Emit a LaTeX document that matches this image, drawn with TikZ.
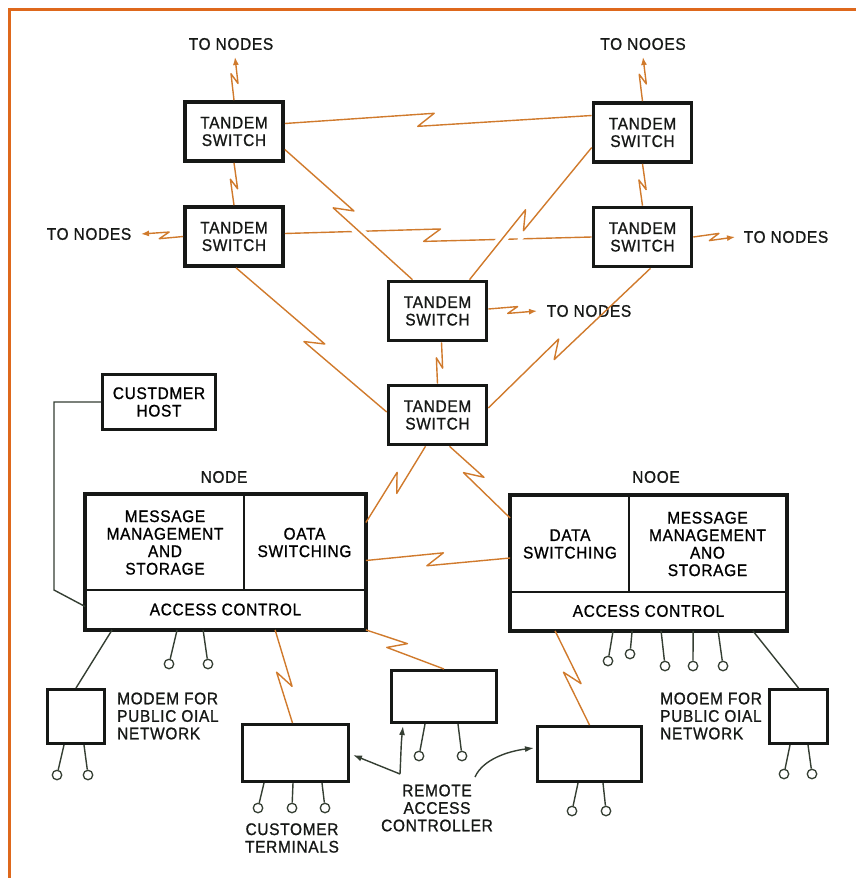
\documentclass[tikz,border=0pt]{standalone}
\usepackage{fontspec}
\setmainfont[FakeStretch=0.92,LetterSpace=4.0,FakeBold=1.0]{Liberation Sans}
\usepackage{tikz}
\usetikzlibrary{arrows.meta,calc}

\definecolor{linkorange}{RGB}{208,122,44}
\definecolor{frameorange}{RGB}{222,104,28}
\definecolor{boxdark}{RGB}{22,24,22}
\definecolor{wiredark}{RGB}{52,62,50}

\tikzset{
    zig size/.store in=\zigsize,
    zig size=10.5pt,
    zig/.style={to path={
        -- ($(\tikztostart)!#1!(\tikztotarget)!\zigsize!37:(\tikztotarget)$)
        -- ($(\tikztostart)!#1!(\tikztotarget)!\zigsize!-143:(\tikztotarget)$)
        -- (\tikztotarget) \tikztonodes}},
    zig/.default=0.5,
}

\begin{document}
\begin{tikzpicture}[x=1pt, y=-1pt, font=\fontsize{16.8}{17.5}\selectfont,
    tandem/.style={draw=boxdark, line width=3.6pt, minimum width=98pt, minimum height=59pt, inner sep=0pt, align=center, text=boxdark},
    part/.style={draw=boxdark, line width=1.8pt, inner sep=0pt, align=center},
    unit/.style={draw=boxdark, line width=3pt, inner sep=0pt, align=center},
    link/.style={draw=linkorange, line width=1.4pt, line join=round},
    tonodes/.style={link, zig size=6pt, -{Latex[length=8pt,width=6pt]}},
    gap/.style={preaction={draw=white, line width=10pt, shorten <=12pt, shorten >=12pt}},
    wire/.style={draw=wiredark, line width=1.4pt},
    pointer/.style={wire, -{Latex[length=9pt,width=6pt]}},
    port/.style={circle, draw=wiredark, line width=1.3pt, minimum size=9.5pt, inner sep=0pt},
    lbl/.style={inner sep=0pt, align=center, text=boxdark}]
        \useasboundingbox (0,0) rectangle (856,878);
        \draw[frameorange, line width=3.5pt] (9.5,878) -- (9.5,9.5) -- (856,9.5);

        \node (TL1) [tandem] at (234,131.5) {TANDEM\\SWITCH};
        \node (TL2) [tandem] at (234,236.5) {TANDEM\\SWITCH};
        \node (TR1) [tandem] at (642.5,132.5) {TANDEM\\SWITCH};
        \node (TR2) [tandem] at (642.5,237) {TANDEM\\SWITCH};
        \node (TC) [tandem] at (437.5,311) {TANDEM\\SWITCH};
        \node (TB) [tandem] at (437.5,415) {TANDEM\\SWITCH};

        \node (toTL) [lbl] at (231,44) {TO NODES};
        \node (toTR) [lbl] at (643,44) {TO NOOES};
        \node (toL) [lbl] at (89,234) {TO NODES};
        \node (toR) [lbl] at (786,237) {TO NODES};
        \node (toC) [lbl] at (589,311) {TO NODES};
        \coordinate (upTL) at (235,57);
        \coordinate (upTR) at (643,57);
        \coordinate (endL) at (141,234);
        \coordinate (endR) at (735,237);
        \coordinate (endC) at (537,311);

        \node (CH) [unit, minimum width=113pt, minimum height=55pt] at (159,402) {CUSTDMER\\HOST};

        \node (LNmsg) [part, minimum width=158pt, minimum height=95pt] at (165,542.5) {MESSAGE\\MANAGEMENT\\AND\\STORAGE};
        \node (LNdat) [part, minimum width=121pt, minimum height=95pt] at (304.5,542.5) {OATA\\SWITCHING};
        \node (LNacc) [part, minimum width=279pt, minimum height=39pt] at (225.5,609.5) {ACCESS CONTROL};
        \draw[boxdark, line width=3.6pt] (LNmsg.north west) rectangle (LNacc.south east);
        \node (LNlbl) [lbl] at (224,477) {NODE};

        \node (RNdat) [part, minimum width=118pt, minimum height=96pt] at (570,544) {DATA\\SWITCHING};
        \node (RNmsg) [part, minimum width=157pt, minimum height=96pt] at (707.5,544) {MESSAGE\\MANAGEMENT\\ANO\\STORAGE};
        \node (RNacc) [part, minimum width=275pt, minimum height=38pt] at (648.5,611) {ACCESS CONTROL};
        \draw[boxdark, line width=3.6pt] (RNdat.north west) rectangle (RNacc.south east);
        \node (RNlbl) [lbl] at (656,477) {NOOE};

        \node (LM) [unit, minimum width=57pt, minimum height=54pt] at (76,716.5) {};
        \node (LMlbl) [lbl, anchor=west, align=left] at (117,716) {MODEM FOR\\PUBLIC OIAL\\NETWORK};
        \node (RM) [unit, minimum width=58pt, minimum height=54pt] at (798.5,716.5) {};
        \node (RMlbl) [lbl, anchor=west, align=left] at (660,716) {MOOEM FOR\\PUBLIC OIAL\\NETWORK};

        \node (CT) [unit, minimum width=106pt, minimum height=57pt] at (295.5,753) {};
        \node (R1) [unit, minimum width=105pt, minimum height=52pt] at (444,696.5) {};
        \node (R2) [unit, minimum width=104pt, minimum height=55pt] at (589.5,754) {};
        \node (CTlbl) [lbl] at (292,838) {CUSTOMER\\TERMINALS};
        \node (RAlbl) [lbl] at (437,808) {REMOTE\\ACCESS\\CONTROLLER};
        \coordinate (racL) at (400,774);
        \coordinate (racR) at (475,777);

        \draw[tonodes] (TL1.north) to[zig] (upTL);
        \draw[tonodes] (TR1.north) to[zig] (upTR);
        \draw[tonodes] (TL2.west) to[zig=0.45] (endL);
        \draw[tonodes] (TR2.east) to[zig] (endR);
        \draw[tonodes] ([yshift=2pt]TC.east) to[zig] (endC);

        \draw[link] (TL1.south) to[zig size=6pt, zig] (TL2.north);
        \draw[link] (TR1.south) to[zig size=6pt, zig] (TR2.north);
        \draw[link] ([xshift=4pt]TC.south) to[zig size=6pt, zig] (TB.north);
        \draw[link] ([yshift=8pt]TL1.east) to[zig=0.46] ([yshift=17pt]TR1.west);
        \draw[link] ([yshift=3pt]TL2.east) to[zig=0.48] (TR2.west);
        \draw[link, gap] ([yshift=-18pt]TL1.east) to[zig=0.46] ([xshift=-25pt]TC.north);
        \draw[link, gap] ([yshift=-15pt]TR1.west) to[zig=0.55] ([xshift=32pt]TC.north);
        \draw[link] ([xshift=2pt]TL2.south) to[zig=0.52] ([yshift=3pt]TB.west);
        \draw[link] ([xshift=8pt]TR2.south) to[zig=0.58] ([yshift=7pt]TB.east);
        \draw[link] ([xshift=-12pt]TB.south) to[zig=0.48] ([yshift=20pt]LNdat.east);
        \draw[link] ([xshift=12pt]TB.south) to[zig=0.4] ([yshift=26pt]RNdat.west);
        \draw[link] ([yshift=-18pt]LNdat.east) to[zig=0.48] ([yshift=-14pt]RNdat.west);
        \draw[link] ([xshift=190pt]LNacc.south west) to[zig=0.53] ([xshift=-3pt]CT.north);
        \draw[link] (LNacc.south east) to[zig=0.4] (R1.north);
        \draw[link] ([xshift=45pt]RNacc.south west) to[zig=0.5] (R2.north);

        \draw[wire] (CH.west) -- ++(-47,0) -- ++(0,188) -- ([yshift=3pt]LNacc.west);
        \draw[wire] ([xshift=27pt]LNacc.south west) -- (LM.north);
        \draw[wire] ([xshift=-34pt]RNacc.south east) -- (RM.north);

        \foreach \s/\px/\py [count=\i] in {92/169/664, 118/208/664}
            {\node (LNp\i) [port] at (\px,\py) {};
             \draw[wire] ([xshift=\s pt]LNacc.south west) -- (LNp\i);}
        \foreach \s/\px/\py [count=\i] in {103/608/661, 122/630/654, 151/665/666, 183/693/666, 208/723/666}
            {\node (RNp\i) [port] at (\px,\py) {};
             \draw[wire] ([xshift=\s pt]RNacc.south west) -- (RNp\i);}
        \foreach \s/\px/\py [count=\i] in {18/57/775, 38/88/775}
            {\node (LMp\i) [port] at (\px,\py) {};
             \draw[wire] ([xshift=\s pt]LM.south west) -- (LMp\i);}
        \foreach \s/\px/\py [count=\i] in {22/784/774, 40/812/774}
            {\node (RMp\i) [port] at (\px,\py) {};
             \draw[wire] ([xshift=\s pt]RM.south west) -- (RMp\i);}
        \foreach \s/\px/\py [count=\i] in {23/258/808, 52/292/808, 81/325/808}
            {\node (CTp\i) [port] at (\px,\py) {};
             \draw[wire] ([xshift=\s pt]CT.south west) -- (CTp\i);}
        \foreach \s/\px/\py [count=\i] in {35/419/756, 68/462/756}
            {\node (R1p\i) [port] at (\px,\py) {};
             \draw[wire] ([xshift=\s pt]R1.south west) -- (R1p\i);}
        \foreach \s/\px/\py [count=\i] in {42/572/811, 67/606/811}
            {\node (R2p\i) [port] at (\px,\py) {};
             \draw[wire] ([xshift=\s pt]R2.south west) -- (R2p\i);}

        \draw[pointer] (racL) -- ([xshift=3pt,yshift=-2pt]CT.east);
        \draw[pointer] (racL) .. controls +(1,-20) and +(-2,18) .. ([xshift=13pt,yshift=-2pt]R1.south west);
        \draw[pointer] (racR) .. controls +(8,-18) and +(-25,3) .. ([xshift=-2pt,yshift=6pt]R2.west);
    \end{tikzpicture}
\end{document}
